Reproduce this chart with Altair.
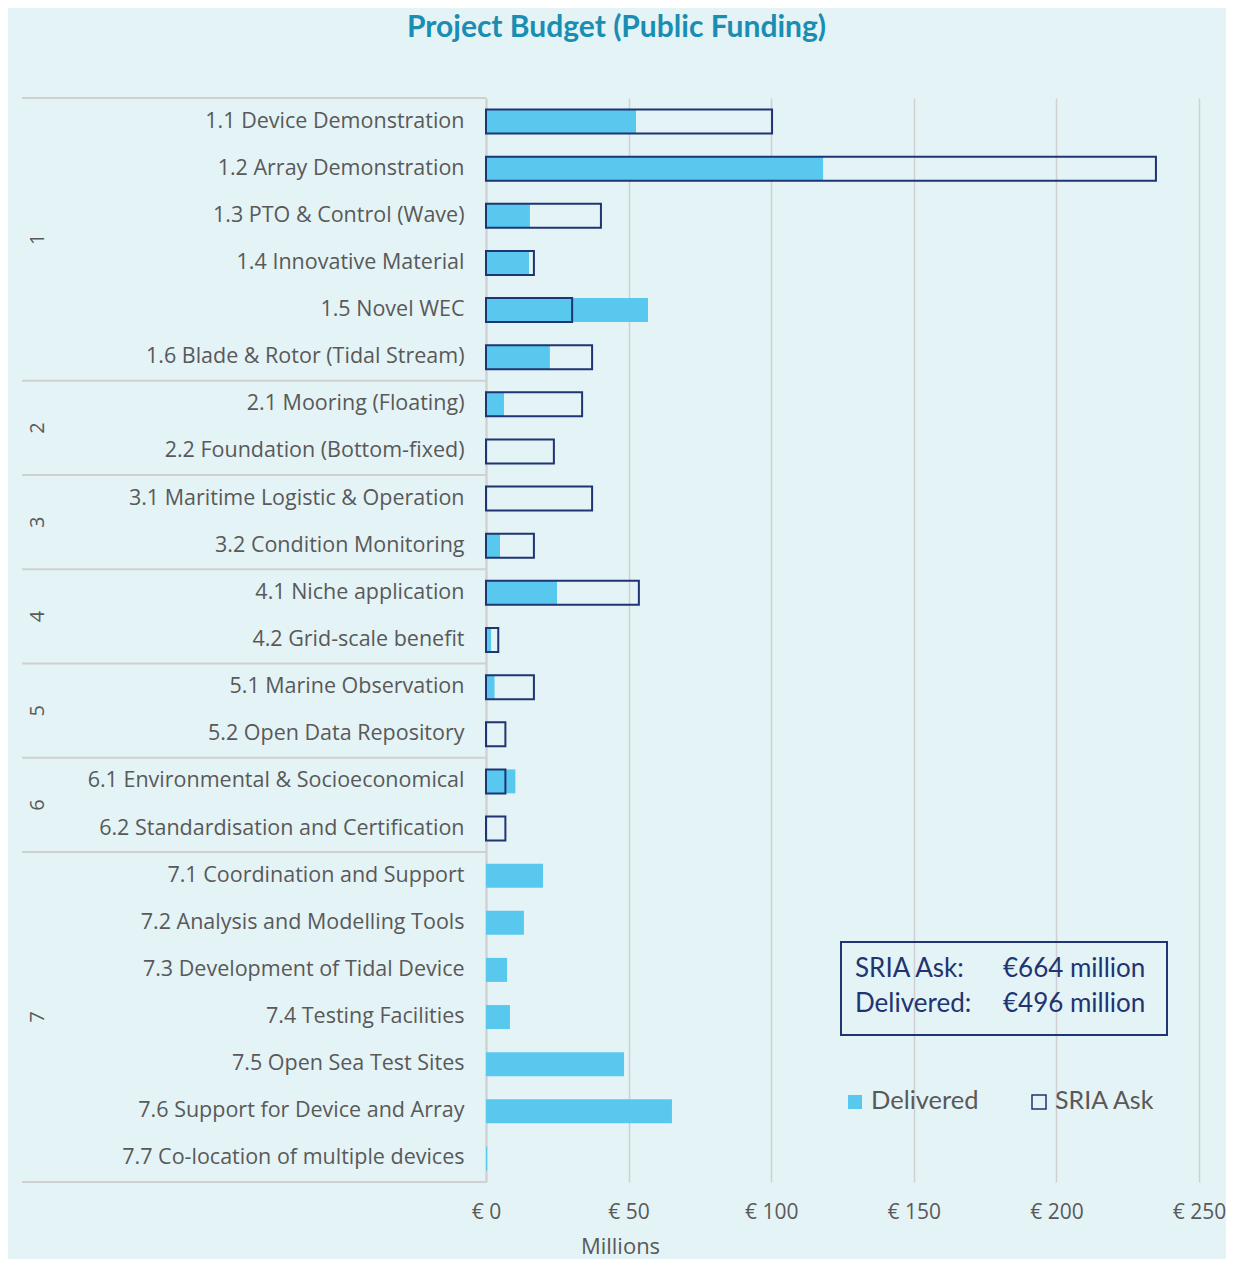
import altair as alt
import pandas as pd

items = [
    "1.1 Device Demonstration",
    "1.2 Array Demonstration",
    "1.3 PTO & Control (Wave)",
    "1.4 Innovative Material",
    "1.5 Novel WEC",
    "1.6 Blade & Rotor (Tidal Stream)",
    "2.1 Mooring (Floating)",
    "2.2 Foundation (Bottom-fixed)",
    "3.1 Maritime Logistic & Operation",
    "3.2 Condition Monitoring",
    "4.1 Niche application",
    "4.2 Grid-scale benefit",
    "5.1 Marine Observation",
    "5.2 Open Data Repository",
    "6.1 Environmental & Socioeconomical ",
    "6.2 Standardisation and Certification",
    "7.1 Coordination and Support",
    "7.2 Analysis and Modelling Tools",
    "7.3 Development of Tidal Device",
    "7.4 Testing Facilities",
    "7.5 Open Sea Test Sites",
    "7.6 Support for Device and Array",
    "7.7 Co-location of multiple devices",
]
groups = ["1"] * 6 + ["2"] * 2 + ["3"] * 2 + ["4"] * 2 + ["5"] * 2 + ["6"] * 2 + ["7"] * 7
delivered = [52.6, 118.2, 15.4, 15.1, 56.8, 22.4, 6.3, 0, 0, 4.9, 24.9, 1.8, 3.0, 0,
             10.3, 0, 20.0, 13.3, 7.4, 8.4, 48.4, 65.2, 0.4]
sria_ask = [100.3, 234.9, 40.3, 16.8, 30.2, 37.2, 33.7, 23.8, 37.2, 16.8, 53.6, 4.3,
            16.8, 6.8, 6.8, 6.8, 0, 0, 0, 0, 0, 0, 0]
x_ticks = [0, 50, 100, 150, 200, 250]
summary_labels = ["SRIA Ask:", "Delivered:"]
summary_totals = [664, 496]
legend_labels = ["Delivered", "SRIA Ask"]

BG = "#e4f3f6"
FILL = "#58c8ef"
NAVY = "#1f3473"
GREY = "#595959"
LINE = "#d0d0d0"
FONT = "Open Sans"
TFONT = "Lato"

df = pd.DataFrame({"item": items, "group": groups,
                   "delivered": delivered, "sria": sria_ask})

# group separators and group labels
first_items, even_anchor, odd_anchor = [], [], []
start = 0
for g in dict.fromkeys(groups):
    n = groups.count(g)
    first_items.append(items[start])
    mid = items[start + n // 2]
    (even_anchor if n % 2 == 0 else odd_anchor).append({"item": mid, "group": g})
    start += n
sep_df = pd.DataFrame({"item": first_items})
last_df = pd.DataFrame({"item": [items[-1]]})
even_df = pd.DataFrame(even_anchor)
odd_df = pd.DataFrame(odd_anchor)

yscale = alt.Scale(domain=items, paddingInner=0, paddingOuter=0)
xscale = alt.Scale(domain=[0, 250], nice=False)

base = alt.Chart(df)

y_axis = alt.Axis(title=None, ticks=False, labelPadding=22, labelFontSize=21.5,
                  labelColor=GREY, labelFont=FONT, labelLimit=460,
                  domain=True, domainColor=LINE, domainWidth=2, grid=False)
x_axis = alt.Axis(title="Millions", values=x_ticks, labelExpr="'€ ' + datum.value",
                  ticks=False, domain=False, grid=True, gridColor=LINE, gridWidth=1.5,
                  labelFontSize=21, labelColor=GREY, labelFont=FONT, labelPadding=19,
                  labelFlush=False,
                  titleFontSize=22, titleColor=GREY, titleFont=FONT,
                  titleFontWeight="normal", titleX=134, titleY=64,
                  titleAlign="center", titleBaseline="middle")

bars_del = base.mark_bar(color=FILL, size=24).encode(
    y=alt.Y("item:N", scale=yscale, sort=items, axis=y_axis),
    x=alt.X("delivered:Q", scale=xscale, axis=x_axis),
)

bars_sria = base.transform_filter("datum.sria > 0").mark_bar(
    fillOpacity=0, stroke=NAVY, strokeWidth=2, size=24
).encode(
    y=alt.Y("item:N", sort=items),
    x=alt.X("sria:Q"),
)

seps = alt.Chart(sep_df).mark_rule(color=LINE, strokeWidth=2).encode(
    y=alt.Y("item:N", sort=items, bandPosition=0),
    x=alt.value(-464), x2=alt.value(0),
)
sep_last = alt.Chart(last_df).mark_rule(color=LINE, strokeWidth=2).encode(
    y=alt.Y("item:N", sort=items, bandPosition=1),
    x=alt.value(-464), x2=alt.value(0),
)

glabel_even = alt.Chart(even_df).mark_text(
    angle=270, fontSize=20, color=GREY, font=FONT, align="center", baseline="middle"
).encode(
    y=alt.Y("item:N", sort=items, bandPosition=0),
    x=alt.value(-448),
    text="group:N",
)
glabel_odd = alt.Chart(odd_df).mark_text(
    angle=270, fontSize=20, color=GREY, font=FONT, align="center", baseline="middle"
).encode(
    y=alt.Y("item:N", sort=items),
    x=alt.value(-448),
    text="group:N",
)

# summary box
box = alt.Chart(pd.DataFrame({"k": [0]})).mark_rect(
    fillOpacity=0, stroke=NAVY, strokeWidth=2
).encode(x=alt.value(355), x2=alt.value(681), y=alt.value(844), y2=alt.value(937))

summary_layers = []
for i, (lab, tot) in enumerate(zip(summary_labels, summary_totals)):
    sdf = pd.DataFrame({"label": [lab], "value": [f"€{tot} million"]})
    yy = 871 + 35 * i
    summary_layers.append(alt.Chart(sdf).mark_text(
        align="left", baseline="middle", fontSize=26, color=NAVY, font=TFONT
    ).encode(x=alt.value(369), y=alt.value(yy), text="label:N"))
    summary_layers.append(alt.Chart(sdf).mark_text(
        align="left", baseline="middle", fontSize=26, color=NAVY, font=TFONT
    ).encode(x=alt.value(517), y=alt.value(yy), text="value:N"))

# manual legend
ldf = pd.DataFrame({"label": legend_labels})
leg_del_sym = alt.Chart(ldf.iloc[[0]]).mark_square(
    size=196, filled=True, color=FILL, opacity=1
).encode(x=alt.value(369), y=alt.value(1004))
leg_sria_sym = alt.Chart(ldf.iloc[[1]]).mark_square(
    size=196, filled=False, stroke=NAVY, strokeWidth=1.5, opacity=1
).encode(x=alt.value(553), y=alt.value(1004))
leg_del_txt = alt.Chart(ldf.iloc[[0]]).mark_text(
    align="left", baseline="middle", fontSize=25.5, color=GREY, font=TFONT
).encode(x=alt.value(385), y=alt.value(1003), text="label:N")
leg_sria_txt = alt.Chart(ldf.iloc[[1]]).mark_text(
    align="left", baseline="middle", fontSize=25, color=GREY, font=TFONT
).encode(x=alt.value(569), y=alt.value(1003), text="label:N")

chart = alt.layer(
    bars_del, bars_sria, seps, sep_last, glabel_even, glabel_odd, box,
    *summary_layers, leg_del_sym, leg_sria_sym, leg_del_txt, leg_sria_txt
).properties(
    width=713,
    height=1084,
    title=alt.TitleParams(
        "Project Budget (Public Funding)", anchor="middle", dx=-226, offset=54,
        fontSize=30, font=TFONT, fontWeight="bold", color="#1a8db3"
    ),
    autosize=alt.AutoSizeParams(type="none"),
    padding={"left": 478, "top": 90, "right": 27, "bottom": 77},
).configure(background=BG).configure_view(stroke=None)

chart.save("out.html", embed_options={"renderer": "svg", "actions": False})
